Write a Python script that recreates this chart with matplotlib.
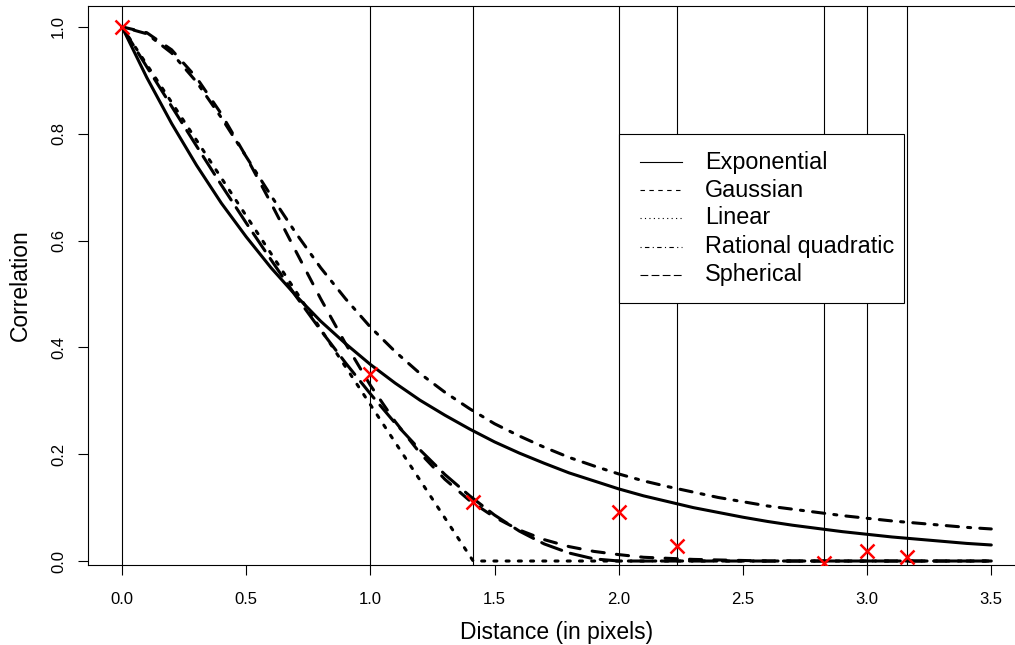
import matplotlib
matplotlib.use("Agg")
import matplotlib.pyplot as plt
from matplotlib.patches import Rectangle

plt.rcParams['font.family'] = ['Liberation Sans', 'DejaVu Sans']

# distance grid the fitted curves were read at
dist = [0.0, 0.1, 0.2, 0.3, 0.4, 0.5, 0.6, 0.7, 0.8, 0.9,
        1.0, 1.1, 1.2, 1.3, 1.4, 1.5, 1.6, 1.7, 1.8, 1.9,
        2.0, 2.1, 2.2, 2.3, 2.4, 2.5, 2.6, 2.7, 2.8, 2.9,
        3.0, 3.1, 3.2, 3.3, 3.4, 3.5]

exponential = [1.000, 0.905, 0.819, 0.741, 0.670, 0.607, 0.549, 0.497, 0.449, 0.407,
               0.368, 0.333, 0.301, 0.273, 0.247, 0.223, 0.202, 0.183, 0.165, 0.150,
               0.135, 0.122, 0.111, 0.100, 0.091, 0.082, 0.074, 0.067, 0.061, 0.055,
               0.050, 0.045, 0.041, 0.037, 0.033, 0.030]

gaussian = [1.000, 0.989, 0.957, 0.905, 0.837, 0.757, 0.670, 0.580, 0.491, 0.407,
            0.329, 0.261, 0.202, 0.153, 0.113, 0.082, 0.058, 0.040, 0.027, 0.018,
            0.012, 0.007, 0.005, 0.003, 0.002, 0.001, 0.000, 0.000, 0.000, 0.000,
            0.000, 0.000, 0.000, 0.000, 0.000, 0.000]

rational_quad = [1.000, 0.987, 0.951, 0.897, 0.830, 0.757, 0.684, 0.614, 0.549, 0.491,
                 0.438, 0.392, 0.351, 0.316, 0.285, 0.257, 0.234, 0.213, 0.194, 0.178,
                 0.163, 0.150, 0.139, 0.129, 0.119, 0.111, 0.103, 0.097, 0.091, 0.085,
                 0.080, 0.075, 0.071, 0.067, 0.063, 0.060]

spherical = [1.000, 0.925, 0.851, 0.777, 0.704, 0.633, 0.564, 0.496, 0.432, 0.371,
             0.313, 0.258, 0.208, 0.162, 0.122, 0.086, 0.056, 0.032, 0.015, 0.004,
             0.000, 0.000, 0.000, 0.000, 0.000, 0.000, 0.000, 0.000, 0.000, 0.000,
             0.000, 0.000, 0.000, 0.000, 0.000, 0.000]

lin_dist = [0.0, 1.414, 3.5]
linear = [1.0, 0.0, 0.0]

# empirical correlations at the pixel-grid distances
obs_dist = [0.0, 1.0, 1.414, 2.0, 2.236, 2.828, 3.0, 3.162]
obs_corr = [1.0, 0.350, 0.111, 0.091, 0.029, -0.004, 0.019, 0.008]

labels = ["Exponential", "Gaussian", "Linear", "Rational quadratic", "Spherical"]
styles = ['-', (0, (4, 4)), (0, (1, 3)), (0, (1, 3, 4, 3)), (0, (7, 3))]

fig = plt.figure(figsize=(10.15, 6.45), dpi=100)
ax = fig.add_axes([0.0864, 0.124, 0.924, 0.8667])

for d in obs_dist:
    ax.axvline(d, color='black', lw=0.8, zorder=1)

curves = [(dist, exponential), (dist, gaussian), (lin_dist, linear),
          (dist, rational_quad), (dist, spherical)]
for (xs, ys), ls in zip(curves, styles):
    ax.plot(xs, ys, color='black', lw=2.2, linestyle=ls,
            dash_capstyle='round', solid_capstyle='round', zorder=2)

ax.plot(obs_dist, obs_corr, linestyle='none', marker='x', color='red',
        markersize=10, markeredgewidth=1.8, zorder=3)

ax.set_xlim(-0.138, 3.638)
ax.set_ylim(-0.0075, 1.039)
ax.set_xticks([0, 0.5, 1, 1.5, 2, 2.5, 3, 3.5])
ax.set_xticklabels(["0.0", "0.5", "1.0", "1.5", "2.0", "2.5", "3.0", "3.5"])
ax.set_yticks([0, 0.2, 0.4, 0.6, 0.8, 1.0])
ax.set_yticklabels(["0.0", "0.2", "0.4", "0.6", "0.8", "1.0"])
ax.tick_params(direction='out', length=7.5, width=0.8, labelsize=12)
ax.tick_params(axis='x', pad=12)
ax.tick_params(axis='y', pad=8, labelrotation=90)
plt.setp(ax.get_yticklabels(), va='center')
for s in ax.spines.values():
    s.set_linewidth(0.8)

ax.set_xlabel("Distance (in pixels)", fontsize=16.5, va='center')
ax.xaxis.set_label_coords(0.5, -0.12)
ax.set_ylabel("Correlation", fontsize=16.5, va='center')
ax.yaxis.set_label_coords(-0.0722, 0.5)

# legend box drawn by hand (R-style padding)
ax.add_patch(Rectangle((0.5665, 0.4687), 0.3038, 0.3023, transform=ax.transAxes,
                       facecolor='white', edgecolor='black', lw=0.8, zorder=4))
row_y = [0.7209, 0.6708, 0.6208, 0.5689, 0.5188]
for yy, lab, ls in zip(row_y, labels, styles):
    ax.plot([0.5889, 0.6337], [yy, yy], transform=ax.transAxes, color='black',
            lw=0.8, linestyle=ls, zorder=5, clip_on=False)
    ax.text(0.6582, yy, lab, transform=ax.transAxes, fontsize=16.8,
            va='center', ha='left', zorder=5)

fig.savefig("out.png", dpi=100)
